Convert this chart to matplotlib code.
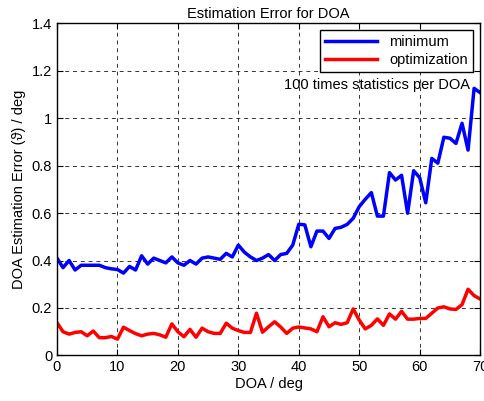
import matplotlib
matplotlib.use('Agg')
import matplotlib.pyplot as plt

plt.rcParams['font.family'] = ['Liberation Sans', 'DejaVu Sans']

# --- data ---
doa = list(range(0, 71))
err_minimum = [0.41, 0.37, 0.40, 0.36, 0.38, 0.38, 0.38, 0.38, 0.37, 0.365,
               0.362, 0.347, 0.375, 0.36, 0.42, 0.385, 0.41, 0.40, 0.39, 0.415,
               0.39, 0.38, 0.40, 0.385, 0.41, 0.415, 0.41, 0.405, 0.43, 0.415,
               0.465, 0.435, 0.415, 0.40, 0.41, 0.425, 0.40, 0.425, 0.43, 0.465,
               0.553, 0.55, 0.458, 0.524, 0.524, 0.493, 0.535, 0.54, 0.552, 0.578,
               0.627, 0.658, 0.686, 0.587, 0.587, 0.77, 0.739, 0.759, 0.599, 0.778,
               0.749, 0.643, 0.83, 0.81, 0.919, 0.915, 0.893, 0.978, 0.865, 1.125,
               1.107]
err_optim = [0.138, 0.10, 0.09, 0.097, 0.10, 0.083, 0.103, 0.075, 0.075, 0.08,
             0.069, 0.119, 0.105, 0.092, 0.083, 0.09, 0.093, 0.087, 0.077, 0.133,
             0.10, 0.079, 0.11, 0.077, 0.115, 0.10, 0.093, 0.093, 0.136, 0.115,
             0.105, 0.097, 0.097, 0.178, 0.098, 0.121, 0.142, 0.12, 0.093, 0.115,
             0.12, 0.116, 0.112, 0.10, 0.163, 0.121, 0.138, 0.131, 0.138, 0.196,
             0.149, 0.112, 0.127, 0.154, 0.127, 0.175, 0.153, 0.186, 0.153, 0.153,
             0.156, 0.156, 0.178, 0.20, 0.205, 0.196, 0.194, 0.214, 0.279, 0.252,
             0.238]
xticks = [0, 10, 20, 30, 40, 50, 60, 70]
yticks = [0, 0.2, 0.4, 0.6, 0.8, 1.0, 1.2, 1.4]
ytick_labels = ['0', '0.2', '0.4', '0.6', '0.8', '1', '1.2', '1.4']

# --- plot ---
fig = plt.figure(figsize=(4.85, 4.01), dpi=100)
ax = fig.add_axes([0.1175, 0.1135, 0.8725, 0.829])

ax.plot(doa, err_minimum, color='#0000ff', linewidth=2.5, label='minimum')
ax.plot(doa, err_optim, color='#ff0000', linewidth=2.5, label='optimization')

ax.set_xlim(0, 70)
ax.set_ylim(0, 1.4)
ax.set_xticks(xticks)
ax.set_yticks(yticks)
ax.set_yticklabels(ytick_labels)
ax.tick_params(direction='in', top=True, right=True, labelsize=10.5, length=4)
ax.grid(True, color='black', linestyle=(0, (4, 4)), linewidth=0.7, alpha=0.8)
for s in ax.spines.values():
    s.set_linewidth(1.0)

ax.set_title('Estimation Error for DOA', fontsize=10.5, pad=4)
ax.set_xlabel('DOA / deg', fontsize=10.5, labelpad=2)
ax.set_ylabel('DOA Estimation Error (\u03d1) / deg', fontsize=10.5, labelpad=4)
ax.text(37.5, 1.139, '100 times statistics per DOA', fontsize=10.5, va='center', ha='left')

leg = ax.legend(loc='upper right', fontsize=10.5, fancybox=False, framealpha=1,
                edgecolor='black', borderaxespad=0.5, handlelength=3.6,
                borderpad=0.35, labelspacing=0.25)
leg.get_frame().set_linewidth(1.0)

fig.savefig('out.png', dpi=100)
